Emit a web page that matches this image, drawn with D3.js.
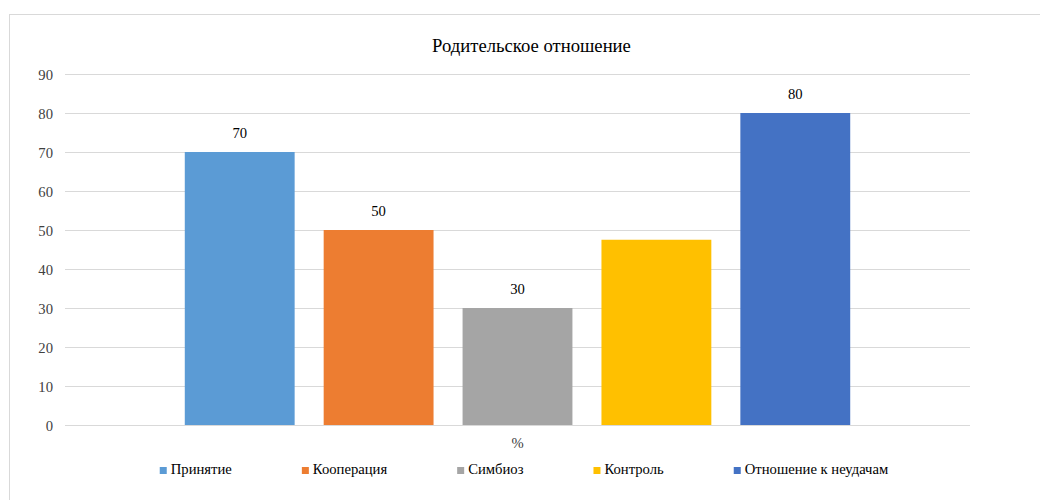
<!DOCTYPE html>
<html>
<head>
<meta charset="utf-8">
<script src="https://cdn.jsdelivr.net/npm/d3@7"></script>
<style>
  body { margin: 0; background: #fff; }
  svg text { font-family: "Liberation Serif", "Times New Roman", serif !important; fill: #404040; }
</style>
</head>
<body>
<div id="plot"></div>
<script>
// Chart data
const title = "Родительское отношение";
const categories = ["%"];
const seriesNames = ["Принятие", "Кооперация", "Симбиоз", "Контроль", "Отношение к неудачам"];
const seriesValues = [70, 50, 30, 47.5, 80];
const seriesLabels = ["70", "50", "30", "", "80"]; // Контроль has no data label
const seriesColors = ["#5B9BD5", "#ED7D31", "#A5A5A5", "#FFC000", "#4472C4"];
const yTicks = [0, 10, 20, 30, 40, 50, 60, 70, 80, 90];

const W = 1040, H = 500;
const margin = { top: 74, right: 70, bottom: 75, left: 65 },
      width = W - margin.left - margin.right,
      height = H - margin.top - margin.bottom;

// chart area runs past the right edge of the window, title centres on it
const areaLeft = 10, areaRight = 1053;
const areaCenter = (areaLeft + areaRight) / 2;
const legendCenter = areaCenter - 7.5;

const svg = d3.select("#plot")
  .append("svg")
  .attr("width", W)
  .attr("height", H);

// Chart area border
svg.append("rect")
  .attr("x", areaLeft - 0.5)
  .attr("y", 14.5)
  .attr("width", areaRight - areaLeft)
  .attr("height", 600)
  .attr("fill", "none")
  .attr("stroke", "#d9d9d9");

// Title
svg.append("text")
  .attr("x", areaCenter)
  .attr("y", 52)
  .attr("text-anchor", "middle")
  .style("font-size", "18.67px")
  .style("fill", "#000")
  .text(title);

const g = svg.append("g")
  .attr("transform", `translate(${margin.left}, ${margin.top})`);

// Scales
const y = d3.scaleLinear()
  .domain([0, 90])
  .range([height, 0]);

const x0 = d3.scaleBand()
  .domain(categories)
  .range([0, width])
  .paddingInner(0)
  .paddingOuter(0.18);

const x1 = d3.scaleBand()
  .domain(seriesNames)
  .range([0, x0.bandwidth()])
  .paddingInner(0.209)
  .paddingOuter(0);

// Gridlines
g.append("g")
  .selectAll("line")
  .data(yTicks)
  .enter()
  .append("line")
  .attr("x1", 0)
  .attr("x2", width)
  .attr("y1", d => Math.round(y(d)) + 0.5)
  .attr("y2", d => Math.round(y(d)) + 0.5)
  .attr("stroke", "#d9d9d9")
  .attr("stroke-width", 1);

// Y axis labels
const yAxis = g.append("g")
  .call(d3.axisLeft(y).tickValues(yTicks).tickSize(0).tickPadding(12));
yAxis.select(".domain").remove();
yAxis.selectAll("text")
  .style("font-size", "14.67px")
  .attr("fill", "#404040")
  .attr("dy", "0.35em");

// Bars
const series = seriesNames.map((name, i) => ({
  name: name,
  value: seriesValues[i],
  label: seriesLabels[i],
  color: seriesColors[i],
  category: categories[0]
}));

g.selectAll("rect.bar")
  .data(series)
  .enter()
  .append("rect")
  .attr("class", "bar")
  .attr("x", d => x0(d.category) + x1(d.name))
  .attr("y", d => y(d.value))
  .attr("width", x1.bandwidth())
  .attr("height", d => height - y(d.value))
  .attr("fill", d => d.color);

// Data labels
g.selectAll("text.label")
  .data(series.filter(d => d.label !== ""))
  .enter()
  .append("text")
  .attr("class", "label")
  .attr("x", d => x0(d.category) + x1(d.name) + x1.bandwidth() / 2)
  .attr("y", d => y(d.value) - 14)
  .attr("text-anchor", "middle")
  .style("font-size", "14.67px")
  .style("fill", "#000")
  .text(d => d.label);

// Category axis label
g.selectAll("text.cat")
  .data(categories)
  .enter()
  .append("text")
  .attr("class", "cat")
  .attr("x", d => x0(d) + x0.bandwidth() / 2)
  .attr("y", height + 23)
  .attr("text-anchor", "middle")
  .style("font-size", "14.67px")
  .text(d => d);

// Legend
const legend = svg.append("g");
const items = legend.selectAll("g")
  .data(series)
  .enter()
  .append("g");

items.append("rect")
  .attr("width", 7)
  .attr("height", 7)
  .attr("y", -7)
  .attr("fill", d => d.color);

items.append("text")
  .attr("x", 11)
  .attr("y", 0)
  .style("font-size", "14.67px")
  .style("fill", "#000")
  .text(d => d.name);

let offset = 0;
const gap = 70;
items.each(function() {
  const w = this.querySelector("text").getComputedTextLength() + 11;
  d3.select(this).attr("transform", `translate(${offset}, 474)`);
  offset += w + gap;
});
const legendWidth = offset - gap;
legend.attr("transform", `translate(${legendCenter - legendWidth / 2}, 0)`);
</script>
</body>
</html>
